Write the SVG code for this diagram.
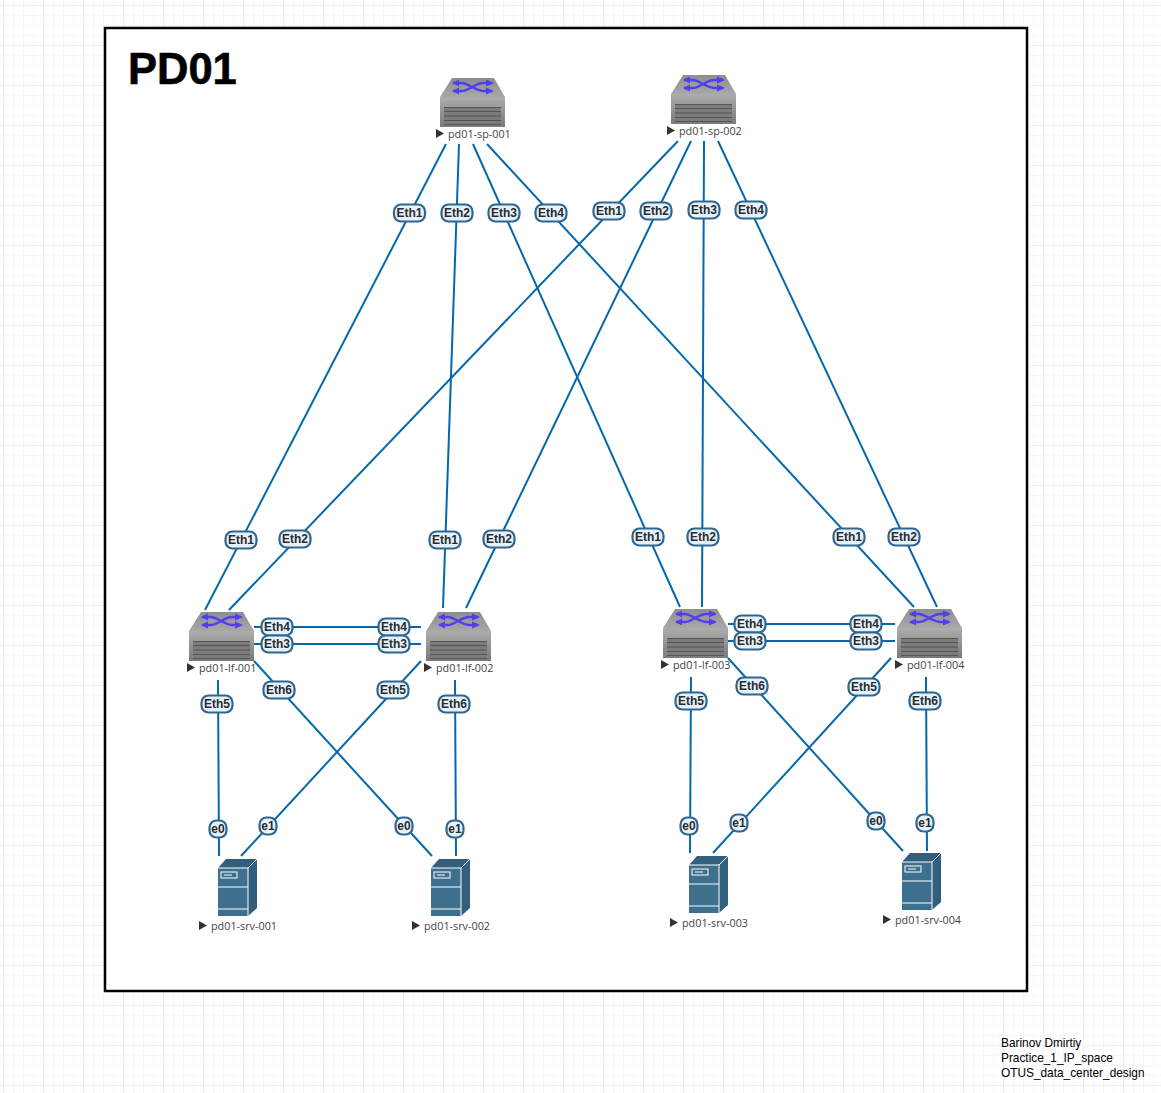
<svg xmlns="http://www.w3.org/2000/svg" width="1161" height="1093" viewBox="0 0 1161 1093">
<style>
.c{stroke:#0568ab;stroke-width:2;fill:none}
.lb rect{fill:#e6f2fb;stroke:#2f6690;stroke-width:2.200}
.lb text{font:bold 12px "Liberation Sans",Arial,sans-serif;fill:#2b2b2b;text-anchor:middle;transform:translateY(-.6px)}
.n{font:10.8px "Open Sans","Liberation Sans",sans-serif;fill:#444}
.t{fill:#333}
.f{font:11.85px "Liberation Sans",Arial,sans-serif;fill:#000}
</style>
<defs>
<pattern id="g1" width="10" height="10" patternUnits="userSpaceOnUse" x="3" y="5"><path d="M0 0H10M0 0V10" stroke="#eeeeee" stroke-width="1" fill="none"/></pattern>
<pattern id="g2" width="40" height="40" patternUnits="userSpaceOnUse" x="3" y="5"><path d="M0 0H40M0 0V40" stroke="#e5e5e5" stroke-width="1" fill="none"/></pattern>
<linearGradient id="sw" x1="0" y1="0" x2="0" y2="1"><stop offset="0" stop-color="#adadad"/><stop offset="1" stop-color="#7a7a7a"/></linearGradient>
<linearGradient id="st" x1="0" y1="0" x2="0" y2="1"><stop offset="0" stop-color="#8e8e8e"/><stop offset="1" stop-color="#a8a8a8"/></linearGradient>
<symbol id="switch" width="66" height="50" overflow="visible">
<path d="M12 0H54L65 19H0Z" fill="url(#st)"/>
<path d="M0 19H65V49H0Z" fill="url(#sw)"/>
<rect x="4" y="29" width="57" height="18" fill="#7c7c7c"/>
<path d="M4 29.500H61M4 33.500H61M4 38H61M4 42.500H61M4 46.500H61" stroke="#555" stroke-width="1"/>
<path d="M13 5H22C28 5 36 13 43 13H52M13 13H22C28 13 36 5 43 5H52" stroke="#4f3ff0" stroke-width="2.500" fill="none"/>
<path d="M19 1.500 12 5 19 8.500ZM19 9.500 12 13 19 16.500ZM46 1.500 54 5 46 8.500ZM46 9.500 54 13 46 16.500Z" fill="#4f3ff0"/>
</symbol>
<symbol id="server" width="40" height="60" overflow="visible">
<path d="M0 10 8 1H39L30 10Z" fill="#315f7d"/>
<path d="M30 10 39 1V50L30 58Z" fill="#325f7c"/>
<rect x="0" y="10" width="30" height="48" fill="#3d6f8f"/>
<path d="M0 10H30V58M0 29H30M0 51H30M30 10 39 1" stroke="#fff" stroke-width="1" fill="none"/>
<rect x="3" y="14" width="16" height="6" fill="none" stroke="#fff" stroke-width="1"/>
<path d="M6 17H14" stroke="#fff" stroke-width="1"/>
</symbol>
<path id="tri" d="M0 0 8 4.500 0 9Z"/>
</defs>
<rect id="grid" width="1161" height="1093" fill="#fff"/>
<rect width="1161" height="1093" fill="url(#g1)"/>
<rect width="1161" height="1093" fill="url(#g2)"/>
<rect id="frame" x="105" y="28" width="922" height="963" fill="#fff" stroke="#000" stroke-width="2.500"/>
<text x="128" y="84" font-family="Liberation Sans, Arial, sans-serif" font-weight="bold" font-size="43.500" stroke="#000" stroke-width="0.6" fill="#000">PD01</text>
<g id="connectors">
<path class="c" d="M446 144 205 610"/>
<path class="c" d="M459 144 443 608"/>
<path class="c" d="M473 144 680 607"/>
<path class="c" d="M487 144 914 607"/>
<path class="c" d="M678 141 229 610"/>
<path class="c" d="M691 141 466 608"/>
<path class="c" d="M704 141 702 607"/>
<path class="c" d="M718 141 937 607"/>
<path class="c" d="M254 627H421M254 644H421"/>
<path class="c" d="M728 624H895M728 641H895"/>
<path class="c" d="M218 680 219 856"/>
<path class="c" d="M254 661 432 856"/>
<path class="c" d="M421 661 241 856"/>
<path class="c" d="M455 680 456 856"/>
<path class="c" d="M691 677 690 853"/>
<path class="c" d="M728 658 903 851"/>
<path class="c" d="M891 658 713 853"/>
<path class="c" d="M926 677 927 851"/>
</g>
<g id="pd01-sp-001"><use href="#switch" x="440" y="78"/><use href="#tri" class="t" x="436" y="129"/><text class="n" x="448" y="138">pd01-sp-001</text></g>
<g id="pd01-sp-002"><use href="#switch" x="671" y="75"/><use href="#tri" class="t" x="667" y="126"/><text class="n" x="679" y="135">pd01-sp-002</text></g>
<g id="pd01-lf-001"><use href="#switch" x="189" y="612"/><use href="#tri" class="t" x="187" y="663"/><text class="n" x="199" y="672">pd01-lf-001</text></g>
<g id="pd01-lf-002"><use href="#switch" x="426" y="612"/><use href="#tri" class="t" x="424" y="663"/><text class="n" x="436" y="672">pd01-lf-002</text></g>
<g id="pd01-lf-003"><use href="#switch" x="663" y="609"/><use href="#tri" class="t" x="661" y="660"/><text class="n" x="673" y="669">pd01-lf-003</text></g>
<g id="pd01-lf-004"><use href="#switch" x="897" y="609"/><use href="#tri" class="t" x="895" y="660"/><text class="n" x="907" y="669">pd01-lf-004</text></g>
<g id="pd01-srv-001"><use href="#server" x="218" y="858"/><use href="#tri" class="t" x="199" y="921"/><text class="n" x="211" y="930">pd01-srv-001</text></g>
<g id="pd01-srv-002"><use href="#server" x="431" y="858"/><use href="#tri" class="t" x="412" y="921"/><text class="n" x="424" y="930">pd01-srv-002</text></g>
<g id="pd01-srv-003"><use href="#server" x="689" y="855"/><use href="#tri" class="t" x="670" y="918"/><text class="n" x="682" y="927">pd01-srv-003</text></g>
<g id="pd01-srv-004"><use href="#server" x="902" y="852"/><use href="#tri" class="t" x="883" y="915"/><text class="n" x="895" y="924">pd01-srv-004</text></g>
<g id="labels">
<g class="lb"><rect x="394" y="204.500" width="31" height="17" rx="7"/><text x="409.500" y="217.500">Eth1</text></g>
<g class="lb"><rect x="441.500" y="204.500" width="31" height="17" rx="7"/><text x="457" y="217.500">Eth2</text></g>
<g class="lb"><rect x="488.500" y="204.500" width="31" height="17" rx="7"/><text x="504" y="217.500">Eth3</text></g>
<g class="lb"><rect x="535.500" y="204.500" width="31" height="17" rx="7"/><text x="551" y="217.500">Eth4</text></g>
<g class="lb"><rect x="593.500" y="202.500" width="31" height="17" rx="7"/><text x="609" y="215.500">Eth1</text></g>
<g class="lb"><rect x="640.500" y="202.500" width="31" height="17" rx="7"/><text x="656" y="215.500">Eth2</text></g>
<g class="lb"><rect x="688.500" y="201.500" width="31" height="17" rx="7"/><text x="704" y="214.500">Eth3</text></g>
<g class="lb"><rect x="735.500" y="201.500" width="31" height="17" rx="7"/><text x="751" y="214.500">Eth4</text></g>
<g class="lb"><rect x="225.500" y="531.500" width="31" height="17" rx="7"/><text x="241" y="544.500">Eth1</text></g>
<g class="lb"><rect x="279.500" y="530.500" width="31" height="17" rx="7"/><text x="295" y="543.500">Eth2</text></g>
<g class="lb"><rect x="429.500" y="531.500" width="31" height="17" rx="7"/><text x="445" y="544.500">Eth1</text></g>
<g class="lb"><rect x="483.500" y="530.500" width="31" height="17" rx="7"/><text x="499" y="543.500">Eth2</text></g>
<g class="lb"><rect x="632.500" y="528.500" width="31" height="17" rx="7"/><text x="648" y="541.500">Eth1</text></g>
<g class="lb"><rect x="687.500" y="528.500" width="31" height="17" rx="7"/><text x="703" y="541.500">Eth2</text></g>
<g class="lb"><rect x="833.500" y="528.500" width="31" height="17" rx="7"/><text x="849" y="541.500">Eth1</text></g>
<g class="lb"><rect x="888.500" y="528.500" width="31" height="17" rx="7"/><text x="904" y="541.500">Eth2</text></g>
<g class="lb"><rect x="261.500" y="618.500" width="31" height="17" rx="7"/><text x="277" y="631.500">Eth4</text></g>
<g class="lb"><rect x="261.500" y="635.500" width="31" height="17" rx="7"/><text x="277" y="648.500">Eth3</text></g>
<g class="lb"><rect x="378.500" y="618.500" width="31" height="17" rx="7"/><text x="394" y="631.500">Eth4</text></g>
<g class="lb"><rect x="378.500" y="635.500" width="31" height="17" rx="7"/><text x="394" y="648.500">Eth3</text></g>
<g class="lb"><rect x="734.500" y="615.500" width="31" height="17" rx="7"/><text x="750" y="628.500">Eth4</text></g>
<g class="lb"><rect x="734.500" y="632.500" width="31" height="17" rx="7"/><text x="750" y="645.500">Eth3</text></g>
<g class="lb"><rect x="850.500" y="615.500" width="31" height="17" rx="7"/><text x="866" y="628.500">Eth4</text></g>
<g class="lb"><rect x="850.500" y="632.500" width="31" height="17" rx="7"/><text x="866" y="645.500">Eth3</text></g>
<g class="lb"><rect x="201.500" y="695.500" width="31" height="17" rx="7"/><text x="217" y="708.500">Eth5</text></g>
<g class="lb"><rect x="263.500" y="681.500" width="31" height="17" rx="7"/><text x="279" y="694.500">Eth6</text></g>
<g class="lb"><rect x="377.500" y="681.500" width="31" height="17" rx="7"/><text x="393" y="694.500">Eth5</text></g>
<g class="lb"><rect x="438.500" y="695.500" width="31" height="17" rx="7"/><text x="454" y="708.500">Eth6</text></g>
<g class="lb"><rect x="675.500" y="692.500" width="31" height="17" rx="7"/><text x="691" y="705.500">Eth5</text></g>
<g class="lb"><rect x="736.500" y="677.500" width="31" height="17" rx="7"/><text x="752" y="690.500">Eth6</text></g>
<g class="lb"><rect x="848.500" y="678.500" width="31" height="17" rx="7"/><text x="864" y="691.500">Eth5</text></g>
<g class="lb"><rect x="909.500" y="692.500" width="31" height="17" rx="7"/><text x="925" y="705.500">Eth6</text></g>
<g class="lb"><rect x="209.500" y="820.500" width="17" height="17" rx="7"/><text x="218" y="833.500">e0</text></g>
<g class="lb"><rect x="259.500" y="817.500" width="17" height="17" rx="7"/><text x="268" y="830.500">e1</text></g>
<g class="lb"><rect x="395.500" y="817.500" width="17" height="17" rx="7"/><text x="404" y="830.500">e0</text></g>
<g class="lb"><rect x="446.500" y="820.500" width="17" height="17" rx="7"/><text x="455" y="833.500">e1</text></g>
<g class="lb"><rect x="680.500" y="817.500" width="17" height="17" rx="7"/><text x="689" y="830.500">e0</text></g>
<g class="lb"><rect x="730.500" y="814.500" width="17" height="17" rx="7"/><text x="739" y="827.500">e1</text></g>
<g class="lb"><rect x="867.500" y="812.500" width="17" height="17" rx="7"/><text x="876" y="825.500">e0</text></g>
<g class="lb"><rect x="916.500" y="814.500" width="17" height="17" rx="7"/><text x="925" y="827.500">e1</text></g>
</g>
<g id="footer"><text class="f" x="1001" y="1047">Barinov Dmirtiy</text><text class="f" x="1001" y="1062">Practice_1_IP_space</text><text class="f" x="1001" y="1077">OTUS_data_center_design</text></g>
</svg>
